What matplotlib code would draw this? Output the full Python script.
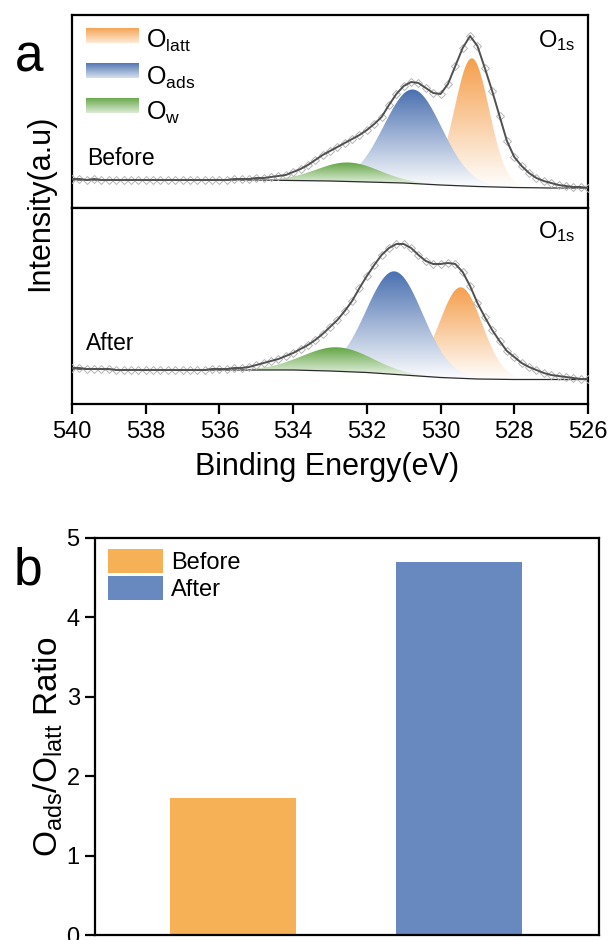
import numpy as np
import matplotlib
matplotlib.use("Agg")
import matplotlib.pyplot as plt
from matplotlib.patches import PathPatch

plt.rcParams['font.family'] = ['Liberation Sans', 'DejaVu Sans']
plt.rcParams['mathtext.fontset'] = 'custom'
plt.rcParams['mathtext.rm'] = 'Liberation Sans'
plt.rcParams['mathtext.it'] = 'Liberation Sans:italic'
plt.rcParams['axes.linewidth'] = 1.6

# O1s spectra, counts every 0.2 eV from 540 to 526 eV (one row per eV)
be = np.round(np.arange(540.0, 525.9, -0.2), 1)
before_counts = [
    29, 29, 28, 29, 28,
    28, 28, 28, 28, 28,
    28, 28, 28, 28, 28,
    28, 28, 28, 28, 28,
    28, 28, 29, 29, 29,
    30, 30, 31, 32, 33,
    36, 39, 43, 48, 53,
    57, 61, 65, 69, 73,
    78, 84, 91, 103, 114,
    122, 126, 125, 120, 115,
    114, 124, 142, 160, 172,
    162, 140, 117, 92, 67,
    51, 42, 35, 30, 27,
    25, 23, 22, 21, 21,
    20,
]
after_counts = [
    36, 36, 35, 35, 35,
    35, 34, 34, 34, 34,
    34, 34, 34, 34, 34,
    34, 34, 34, 34, 35,
    35, 35, 36, 36, 37,
    39, 41, 43, 45, 48,
    51, 55, 59, 64, 70,
    77, 84, 93, 103, 116,
    128, 139, 149, 156, 160,
    160, 156, 149, 143, 140,
    140, 141, 140, 132, 118,
    101, 87, 74, 63, 53,
    47, 41, 37, 34, 31,
    29, 28, 27, 26, 25,
    25,
]

# Shirley background, every 1 eV from 540 to 526 eV
bg_be = np.arange(540, 525, -1)
before_bg = [28, 28, 28, 28, 28, 28, 27.5, 27, 26, 25, 23, 21.5, 20.5, 20, 20]
after_bg = [35, 34.5, 34, 34, 34, 34, 34, 33, 31.5, 29, 26.5, 25, 24.5, 24.5, 24.5]

# fitted components: O_latt, O_ads, O_w
comp_names = ['latt', 'ads', 'w']
comp_colors = ['#f59f4c', '#4a70b0', '#62a544']
before_center = [529.15, 530.75, 532.50]
before_height = [128, 94, 19]
before_fwhm = [1.10, 1.85, 2.00]
after_center = [529.45, 531.25, 532.80]
after_height = [91, 103, 24]
after_fwhm = [1.36, 1.80, 2.20]

# bar chart
groups = ['Before', 'After']
ratio = [1.72, 4.70]
bar_colors = ['#f6b156', '#6889bf']


def gradient_img(color, n=256):
    rgb = np.array(matplotlib.colors.to_rgb(color))
    t = np.linspace(0, 1, n)[:, None, None]
    return (1 - t) * np.ones(3) + t * rgb


def gradient_fill(ax, x, base, top, color, z):
    poly = ax.fill_between(x, base, top, facecolor='none', edgecolor='none')
    clip = PathPatch(poly.get_paths()[0], transform=ax.transData,
                     facecolor='none', edgecolor='none')
    ax.add_patch(clip)
    im = ax.imshow(gradient_img(color), origin='lower', aspect='auto',
                   extent=[x.min(), x.max(), base.min(), top.max()],
                   zorder=z, interpolation='bilinear')
    im.set_clip_path(clip)


def draw_spectrum(ax, counts, bg, centers, heights, fwhms, ylim):
    fine = np.linspace(540, 526, 1401)
    base = np.interp(fine, bg_be[::-1], np.array(bg)[::-1])
    # O_ads first, then O_latt on top of it, O_w last
    for i in [1, 0, 2]:
        peak = heights[i] * np.exp(-4 * np.log(2) * ((fine - centers[i]) / fwhms[i]) ** 2)
        gradient_fill(ax, fine, base, base + peak, comp_colors[i], 1 + i * 0.1)
    ax.plot(bg_be, bg, color='#2b2b2b', lw=0.9, zorder=3)
    ax.plot(be, counts, ls='none', marker='D', ms=4.5, mfc='none',
            mec='#b4b4b4', mew=0.7, zorder=4)
    ax.plot(be, counts, color='#505050', lw=1.4, zorder=5)
    ax.set_xlim(540, 526)
    ax.set_ylim(*ylim)
    ax.set_yticks([])


fig = plt.figure(figsize=(6.12, 9.4), dpi=100)
ax1 = fig.add_axes([72 / 612, 1 - 208 / 940, 516 / 612, 193 / 940])
ax2 = fig.add_axes([72 / 612, 1 - 404 / 940, 516 / 612, 196 / 940])
ax3 = fig.add_axes([95 / 612, 1 - 935 / 940, 504 / 612, 397 / 940])

draw_spectrum(ax1, before_counts, before_bg, before_center, before_height,
              before_fwhm, (0, 193))
draw_spectrum(ax2, after_counts, after_bg, after_center, after_height,
              after_fwhm, (0, 196))

ax1.set_xticks([])
ax2.set_xticks(np.arange(540, 525, -2))
ax2.tick_params(axis='x', direction='out', length=7, width=1.6,
                labelsize=17, pad=5)

ax1.text(0.029, 0.223, 'Before', transform=ax1.transAxes, fontsize=16.5)
ax2.text(0.027, 0.276, 'After', transform=ax2.transAxes, fontsize=16.5)
ax1.text(0.903, 0.834, 'O$_{\\mathrm{1s}}$', transform=ax1.transAxes, fontsize=17)
ax2.text(0.903, 0.845, 'O$_{\\mathrm{1s}}$', transform=ax2.transAxes, fontsize=17)

# legend with faded swatches
sw_bottom = [0.855, 0.674, 0.492]
txt_base = [0.829, 0.637, 0.456]
for i, name in enumerate(comp_names):
    sw = ax1.inset_axes([0.027, sw_bottom[i], 0.101, 0.078])
    sw.imshow(gradient_img(comp_colors[i])[::-1][:200], aspect='auto')
    sw.axis('off')
    ax1.text(0.143, txt_base[i], 'O$_{\\mathrm{%s}}$' % name,
             transform=ax1.transAxes, fontsize=18)

fig.text(40 / 612, 1 - 203 / 940, 'Intensity(a.u)', rotation=90,
         ha='center', va='center', fontsize=22)
fig.text(327 / 612, 1 - 467 / 940, 'Binding Energy(eV)',
         ha='center', va='center', fontsize=22)
fig.text(29 / 612, 1 - 58 / 940, 'a', ha='center', va='center', fontsize=37)
fig.text(28 / 612, 1 - 571 / 940, 'b', ha='center', va='center', fontsize=37)

# O_ads / O_latt ratio
ax3.bar([0, 1], ratio, width=0.56, color=bar_colors, label=groups)
ax3.set_xlim(-0.61, 1.62)
ax3.set_ylim(0, 5)
ax3.set_xticks([])
ax3.set_yticks(range(6))
ax3.tick_params(axis='y', direction='out', length=7, width=1.6,
                labelsize=17, pad=4)
ax3.set_ylabel('O$_{\\mathrm{ads}}$/O$_{\\mathrm{latt}}$ Ratio', fontsize=24)
ax3.yaxis.set_label_coords(-0.06, 0.475)
ax3.legend(loc='upper left', bbox_to_anchor=(0.026, 0.972), frameon=False,
           fontsize=17, borderaxespad=0, borderpad=0, handlelength=2.33,
           handleheight=1.15, labelspacing=0.1, handletextpad=0.35)

fig.savefig('out.png', dpi=100)
